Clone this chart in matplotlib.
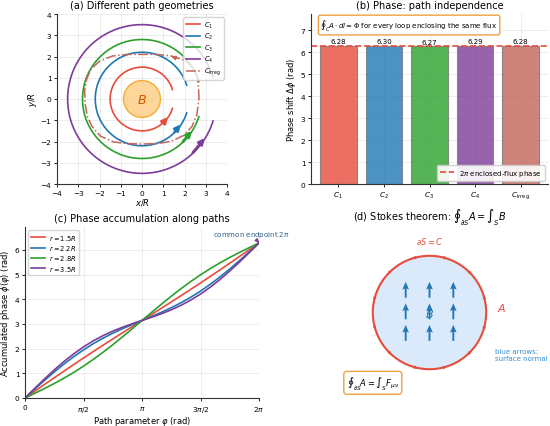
import numpy as np
import matplotlib
import matplotlib.pyplot as plt
from matplotlib.patches import Circle

matplotlib.use('Agg')

# (a) loops
radii = [1.5, 2.2, 2.8, 3.5]
loop_labels = ["$C_1$", "$C_2$", "$C_3$", "$C_4$", r"$C_{\rm irreg}$"]
colors = ["#e74c3c", "#1f77b4", "#2ca02c", "#7d3c98", "#c0665a"]
gap = 0.3
irreg_x = [2.68, 2.66, 2.60, 2.38, 2.00, 1.40, 0.70, 0.00, -0.70, -1.40, -2.00, -2.40, -2.60,
           -2.70, -2.68, -2.58, -2.35, -1.95, -1.35, -0.70, 0.00, 0.70, 1.35, 1.95, 2.35, 2.58, 2.68]
irreg_y = [0.00, 0.55, 1.05, 1.50, 1.82, 2.02, 2.10, 2.10, 2.10, 2.02, 1.78, 1.40, 0.95,
           0.40, -0.20, -0.80, -1.30, -1.75, -2.02, -2.10, -2.12, -2.10, -2.00, -1.72, -1.30, -0.75, 0.00]
flux_radius = 0.87

# (b) phases
phase_vals = [6.28, 6.30, 6.27, 6.29, 6.28]

# (c) accumulated phase, sampled every pi/12
phi_grid = [k * np.pi / 12 for k in range(25)]
acc_labels = ["$r = 1.5R$", "$r = 2.2R$", "$r = 2.8R$", "$r = 3.5R$"]
acc_r15 = [0.000, 0.275, 0.549, 0.820, 1.090, 1.357, 1.621, 1.881, 2.137, 2.391, 2.643, 2.893, 3.142,
           3.390, 3.640, 3.892, 4.146, 4.403, 4.662, 4.926, 5.193, 5.463, 5.735, 6.008, 6.283]
acc_r22 = [0.000, 0.360, 0.714, 1.054, 1.376, 1.676, 1.951, 2.200, 2.423, 2.625, 2.808, 2.978, 3.142,
           3.305, 3.475, 3.658, 3.860, 4.084, 4.332, 4.607, 4.907, 5.229, 5.570, 5.923, 6.283]
acc_r28 = [0.000, 0.190, 0.384, 0.587, 0.805, 1.039, 1.291, 1.563, 1.852, 2.158, 2.478, 2.808, 3.142,
           3.475, 3.805, 4.125, 4.431, 4.721, 4.992, 5.244, 5.478, 5.696, 5.900, 6.093, 6.283]
acc_r35 = [0.000, 0.391, 0.774, 1.139, 1.480, 1.792, 2.071, 2.316, 2.527, 2.710, 2.868, 3.009, 3.142,
           3.274, 3.415, 3.573, 3.756, 3.968, 4.212, 4.491, 4.803, 5.144, 5.510, 5.892, 6.283]

# (d) normal arrows grid
normal_x = [-0.42, 0.0, 0.42]
normal_y = [-0.36, 0.02, 0.40]

plt.rcParams['font.family'] = ['DejaVu Sans']
plt.rcParams['xtick.labelsize'] = 5.3
plt.rcParams['ytick.labelsize'] = 5.3
plt.rcParams['axes.labelsize'] = 6
plt.rcParams['axes.titlesize'] = 7
plt.rcParams['axes.edgecolor'] = '#333333'


def style(ax):
    ax.spines['top'].set_visible(False)
    ax.spines['right'].set_visible(False)
    ax.grid(True, color='#cccccc', alpha=0.5, lw=0.5)
    ax.set_axisbelow(True)
    ax.tick_params(length=2.5, width=0.6, pad=1.5)


fig = plt.figure(figsize=(5.5, 4.27), dpi=100)
W, H = 550, 427


def rect(x0, x1, y0, y1):
    return [x0 / W, 1 - y1 / H, (x1 - x0) / W, (y1 - y0) / H]


axA = fig.add_axes(rect(25, 259, 15, 185))
axB = fig.add_axes(rect(311, 548, 15, 185))
axC = fig.add_axes(rect(25, 259, 228, 399))
axD = fig.add_axes(rect(311, 548, 228, 399))

# ---- (a)
style(axA)
axA.add_patch(Circle((0, 0), flux_radius, facecolor='#ffcc80', edgecolor='#f39c12', lw=1, alpha=0.8))
axA.text(0, 0, "$B$", color='#d35400', fontsize=9, ha='center', va='center')
for r, c, lab in zip(radii, colors, loop_labels):
    th = np.linspace(gap, 2 * np.pi - gap, 200)
    axA.plot(r * np.cos(th), r * np.sin(th), color=c, lw=1.2, label=lab)
    t0, t1 = 2 * np.pi - 0.85, 2 * np.pi - 0.52
    axA.annotate("", xy=(r * np.cos(t1), r * np.sin(t1)), xytext=(r * np.cos(t0), r * np.sin(t0)),
                 arrowprops=dict(arrowstyle='-|>', color=c, lw=2, mutation_scale=8))
axA.plot(irreg_x, irreg_y, color=colors[4], lw=1.1, ls='-.', label=loop_labels[4])
axA.annotate("", xy=(1.25, 2.04), xytext=(1.75, 1.88),
             arrowprops=dict(arrowstyle='-|>', color=colors[4], lw=1.0, mutation_scale=6))
axA.set_xlim(-4, 4)
axA.set_ylim(-4, 4)
axA.set_aspect('equal')
axA.set_xticks(range(-4, 5))
axA.set_yticks(range(-4, 5))
axA.set_xlabel("$x/R$", labelpad=0.5)
axA.set_ylabel("$y/R$", labelpad=1)
axA.set_title("(a) Different path geometries", pad=4)
axA.legend(loc='upper right', fontsize=4.8, handlelength=2.2, borderpad=0.35, labelspacing=0.2,
           handletextpad=0.6, framealpha=0.8)

# ---- (b)
style(axB)
xb = np.arange(len(phase_vals))
axB.bar(xb, phase_vals, width=0.8, color=colors, alpha=0.8, edgecolor='#777777', lw=0.8)
for xi, v in zip(xb, phase_vals):
    axB.text(xi, v + 0.08, f"{v:.2f}", ha='center', va='bottom', fontsize=5)
axB.axhline(2 * np.pi, color='#e74c3c', ls='--', lw=1.2, label=r"$2\pi$ enclosed-flux phase")
axB.set_xticks(xb)
axB.set_xticklabels(loop_labels)
axB.set_ylim(0, 7.75)
axB.set_xlim(-0.6, 4.6)
axB.set_ylabel(r"Phase shift $\Delta\phi$ (rad)", labelpad=2)
axB.set_title("(b) Phase: path independence", pad=4)
axB.text(0.04, 0.935, r"$\oint_C A\cdot dl = \Phi$ for every loop enclosing the same flux",
         transform=axB.transAxes, fontsize=5, va='center', ha='left',
         bbox=dict(boxstyle='round,pad=0.3', facecolor='white', edgecolor='#f0a040', lw=1))
axB.legend(loc='lower right', fontsize=5, framealpha=0.9, borderpad=0.4)

# ---- (c)
style(axC)
for ys, c, lab in zip([acc_r15, acc_r22, acc_r28, acc_r35], colors, acc_labels):
    axC.plot(phi_grid, ys, color=c, lw=1.2, label=lab)
axC.set_xlim(0, 2 * np.pi)
axC.set_ylim(0, 6.93)
axC.set_xticks([0, np.pi / 2, np.pi, 3 * np.pi / 2, 2 * np.pi])
axC.set_xticklabels(["0", r"$\pi/2$", r"$\pi$", r"$3\pi/2$", r"$2\pi$"])
axC.set_yticks(range(7))
axC.set_xlabel(r"Path parameter $\varphi$ (rad)", labelpad=0.5)
axC.set_ylabel(r"Accumulated phase $\phi(\varphi)$ (rad)", labelpad=2)
axC.set_title("(c) Phase accumulation along paths", pad=4)
axC.legend(loc='upper left', fontsize=4.8, handlelength=2.2, borderpad=0.35, labelspacing=0.2,
           handletextpad=0.6)
axC.annotate(r"common endpoint $2\pi$", xy=(2 * np.pi, 2 * np.pi), xytext=(2 * np.pi - 0.2, 6.45),
             fontsize=5, color='#2c5f8a', ha='center', va='bottom', annotation_clip=False,
             arrowprops=dict(arrowstyle='-|>', color=colors[3], lw=1, mutation_scale=5))

# ---- (d)
axD.set_xlim(-2.09, 2.09)
axD.set_ylim(-1.5, 1.5)
axD.set_aspect('equal')
axD.axis('off')
axD.set_title(r"(d) Stokes theorem: $\oint_{\partial S} A = \int_S B$", pad=2)
axD.add_patch(Circle((0, 0), 1.0, facecolor='#dbeafa', edgecolor='#e74c3c', lw=1.5))
for k in range(12):
    a0 = np.deg2rad(15 + 30 * k)
    a1 = a0 + 0.05
    axD.annotate("", xy=(np.cos(a1), np.sin(a1)), xytext=(np.cos(a0), np.sin(a0)),
                 arrowprops=dict(arrowstyle='-|>', color='#e74c3c', lw=0.8, mutation_scale=4))
nx, ny = np.meshgrid(normal_x, normal_y)
axD.quiver(nx, ny, np.zeros_like(nx), np.full_like(ny, 0.28), color='#1f77b4', angles='xy',
           scale_units='xy', scale=1, pivot='middle', width=0.008, headwidth=3.5, headlength=4,
           headaxislength=3.5)
axD.text(0, 0.0, "$B$", color='#1f77b4', fontsize=8, ha='center', va='center')
axD.text(0, 1.27, r"$\partial S = C$", color='#e74c3c', fontsize=6, ha='center', va='center')
axD.text(1.27, 0.1, "$A$", color='#e74c3c', fontsize=8, ha='center', va='center')
axD.text(1.16, -0.74, "blue arrows:\nsurface normal", color='#3a8fd0', fontsize=5,
         ha='left', va='center')
axD.text(-1.0, -1.24, r"$\oint_{\partial S} A = \int_S F_{\mu\nu}$", fontsize=6,
         ha='center', va='center',
         bbox=dict(boxstyle='round,pad=0.35', facecolor='white', edgecolor='#f0a040', lw=1))

fig.savefig("out.png", dpi=100)
